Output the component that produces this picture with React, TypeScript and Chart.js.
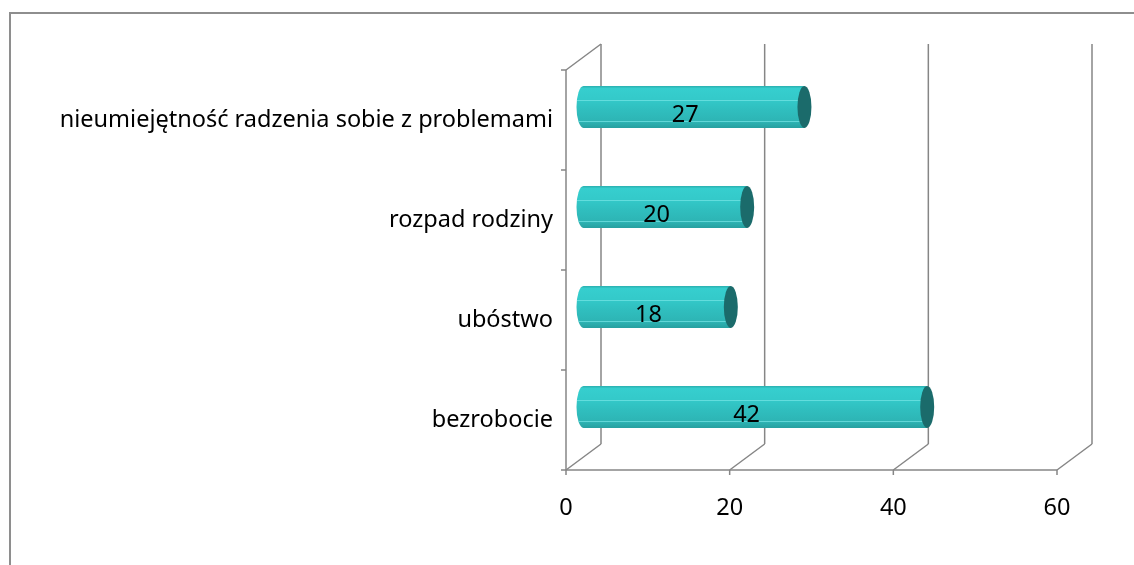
import { useEffect, useRef } from "react";
import { Chart, registerables } from "chart.js";

Chart.register(...registerables);

const categories = [
  "nieumiejętność radzenia sobie z problemami",
  "rozpad rodziny",
  "ubóstwo",
  "bezrobocie",
];
const values = [27, 20, 18, 42];
const xTicks = [0, 20, 40, 60];

const DX = 35;
const DY = 26;
const FONT = "'Noto Sans', sans-serif";
const FONT_SIZE = 23.5;
const GRID = "#868686";

function drawCylinder(ctx: CanvasRenderingContext2D, l: number, r: number, t: number, b: number) {
  const h = b - t;
  const cy = (t + b) / 2;
  const rx = 7;
  const g = ctx.createLinearGradient(0, t, 0, b);
  g.addColorStop(0, "#2AAEAE");
  g.addColorStop(0.06, "#36CECE");
  g.addColorStop(0.3, "#34CACA");
  g.addColorStop(0.55, "#30BFBF");
  g.addColorStop(0.85, "#2DB4B4");
  g.addColorStop(1, "#27A0A0");
  ctx.save();
  ctx.beginPath();
  ctx.moveTo(l, t);
  ctx.lineTo(r, t);
  ctx.lineTo(r, b);
  ctx.lineTo(l, b);
  ctx.ellipse(l, cy, rx, h / 2, 0, Math.PI / 2, Math.PI * 1.5, false);
  ctx.closePath();
  ctx.fillStyle = g;
  ctx.fill();
  ctx.clip();
  ctx.strokeStyle = "rgba(120,230,230,0.7)";
  ctx.lineWidth = 1;
  [0.33, 0.83].forEach((f) => {
    const y = Math.round(t + h * f) + 0.5;
    ctx.beginPath();
    ctx.moveTo(l - rx, y);
    ctx.lineTo(r, y);
    ctx.stroke();
  });
  ctx.restore();
  ctx.beginPath();
  ctx.ellipse(r, cy, rx, h / 2, 0, 0, Math.PI * 2);
  ctx.fillStyle = "#1B6B6B";
  ctx.fill();
}

const framePlugin = {
  id: "frame3d",
  beforeDatasetsDraw(chart: any) {
    const ctx: CanvasRenderingContext2D = chart.ctx;
    const { left, top, bottom } = chart.chartArea;
    const xs = chart.scales.x;
    const px = xTicks.map((v) => xs.getPixelForValue(v));
    ctx.save();
    ctx.strokeStyle = "#8E8E8E";
    ctx.lineWidth = 2;
    ctx.strokeRect(10, 13, 1300, 700);
    ctx.strokeStyle = GRID;
    ctx.lineWidth = 1.5;
    const line = (x1: number, y1: number, x2: number, y2: number) => {
      ctx.beginPath();
      ctx.moveTo(x1, y1);
      ctx.lineTo(x2, y2);
      ctx.stroke();
    };
    px.forEach((x) => {
      line(x + DX, top - DY, x + DX, bottom - DY);
      line(x, bottom, x + DX, bottom - DY);
      line(x, bottom, x, bottom + 5);
    });
    line(left, bottom, px[px.length - 1], bottom);
    line(left, top, left, bottom);
    line(left, top, left + DX, top - DY);
    const n = categories.length;
    for (let i = 0; i <= n; i++) {
      const y = top + ((bottom - top) * i) / n;
      line(left - 5, y, left, y);
    }
    ctx.restore();
  },
  afterDatasetsDraw(chart: any) {
    const ctx: CanvasRenderingContext2D = chart.ctx;
    const meta = chart.getDatasetMeta(0);
    ctx.save();
    meta.data.forEach((el: any) => {
      const { x, y, base, height } = el.getProps(["x", "y", "base", "height"], true);
      const ox = DX / 2;
      const oy = -DY / 2;
      drawCylinder(ctx, base + ox, x + ox, y - height / 2 + oy, y + height / 2 + oy);
    });
    meta.data.forEach((el: any, i: number) => {
      const { x, y, base } = el.getProps(["x", "y", "base"], true);
      ctx.fillStyle = "#000";
      ctx.font = `${FONT_SIZE}px ${FONT}`;
      ctx.textAlign = "center";
      ctx.textBaseline = "middle";
      ctx.fillText(String(values[i]), (x + base) / 2 + DX / 4, y - DY / 4 + 2);
    });
    ctx.restore();
  },
};

export default function App() {
  const ref = useRef<HTMLCanvasElement | null>(null);
  useEffect(() => {
    if (!ref.current) return;
    const chart = new Chart(ref.current, {
      type: "bar",
      data: {
        labels: categories,
        datasets: [
          {
            data: values,
            backgroundColor: "rgba(0,0,0,0)",
            borderWidth: 0,
            categoryPercentage: 1,
            barPercentage: 0.42,
          },
        ],
      },
      options: {
        indexAxis: "y",
        animation: false,
        responsive: false,
        layout: { padding: { left: 0, top: 70, right: 77, bottom: 0 } },
        plugins: { legend: { display: false }, tooltip: { enabled: false } },
        scales: {
          x: {
            min: 0,
            max: 60,
            afterFit: (s: any) => {
              s.height = 95;
            },
            afterBuildTicks: (s: any) => {
              s.ticks = xTicks.map((v) => ({ value: v }));
            },
            grid: { display: false, drawTicks: false },
            border: { display: false },
            ticks: {
              padding: 24,
              color: "#000",
              font: { family: FONT, size: FONT_SIZE },
            },
          },
          y: {
            afterFit: (s: any) => {
              s.width = 566;
            },
            grid: { display: false, drawTicks: false },
            border: { display: false },
            ticks: {
              padding: 13,
              color: "#000",
              font: { family: FONT, size: FONT_SIZE },
            },
          },
        },
      },
      plugins: [framePlugin],
    });
    return () => chart.destroy();
  }, []);
  return (
    <div style={{ position: "absolute", left: 0, top: 0, width: 1134, height: 565, background: "#fff" }}>
      <canvas ref={ref} width={1134} height={565} />
    </div>
  );
}
